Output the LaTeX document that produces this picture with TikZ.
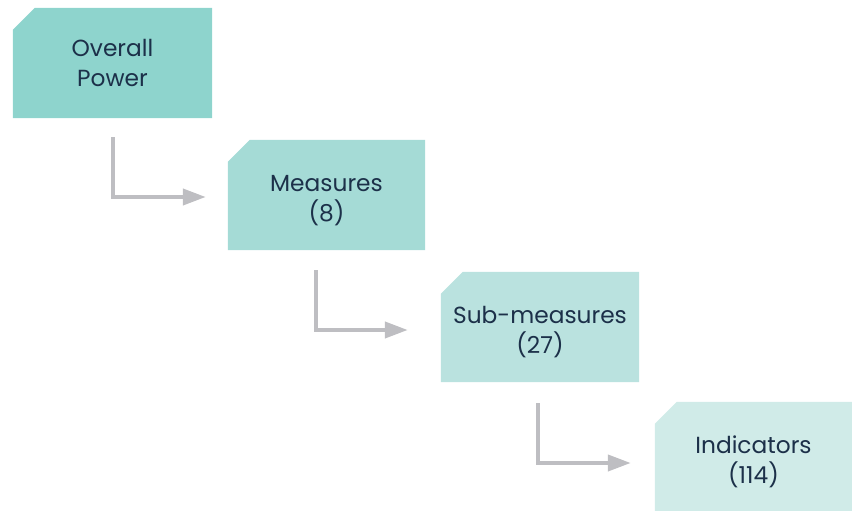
\documentclass[tikz,border=0pt]{standalone}
\usepackage{fontspec}
\setmainfont{Poppins}
\usetikzlibrary{arrows.meta,calc}
\definecolor{cA}{HTML}{8ED4CD}
\definecolor{cB}{HTML}{A5DBD6}
\definecolor{cC}{HTML}{BAE2DF}
\definecolor{cD}{HTML}{D0EBE8}
\definecolor{arrgray}{HTML}{BEBEC2}
\definecolor{txt}{HTML}{1C3049}
\tikzset{
  lvl/.style={rectangle, inner sep=0pt, minimum width=198pt, minimum height=110pt,
    align=center, text=txt, font=\fontsize{23.3}{30}\selectfont},
  arr/.style={draw=arrgray, line width=4pt, -{Triangle[length=23pt,width=16pt]}},
}
\newcommand{\cutfill}[2]{%
  \fill[#2] (#1.south west) -- ($(#1.north west)+(0,-22pt)$) -- ($(#1.north west)+(22pt,0)$)
    -- (#1.north east) -- (#1.south east) -- cycle;}
\begin{document}
\begin{tikzpicture}[x=1pt,y=1pt]
\useasboundingbox (0,0) rectangle (852,-511);
\begin{scope}
\clip (0,0) rectangle (852,-511);
\path (112.5,-63) node[lvl, minimum width=199pt] (a) {};
\path (326.5,-195) node[lvl, minimum width=197pt] (b) {};
\path (540,-327) node[lvl] (c) {};
\path (753.5,-457) node[lvl, minimum width=197pt] (d) {};
\cutfill{a}{cA}
\cutfill{b}{cB}
\cutfill{c}{cC}
\cutfill{d}{cD}
\node[lvl, yshift=0pt] at (a) {Overall\\Power};
\node[lvl, yshift=-6pt] at (b) {Measures\\(8)};
\node[lvl, yshift=-5pt] at (c) {Sub-measures\\(27)};
\node[lvl, yshift=-5pt] at (d) {Indicators\\(114)};
\end{scope}
\draw[arr] ([yshift=-19pt]a.south) |- ([xshift=-22pt,yshift=-2pt]b.west);
\draw[arr] ([xshift=-11pt,yshift=-20pt]b.south) |- ([xshift=-33pt,yshift=-3pt]c.west);
\draw[arr] ([xshift=-2pt,yshift=-21pt]c.south) |- ([xshift=-24pt,yshift=-6pt]d.west);
\end{tikzpicture}
\end{document}
